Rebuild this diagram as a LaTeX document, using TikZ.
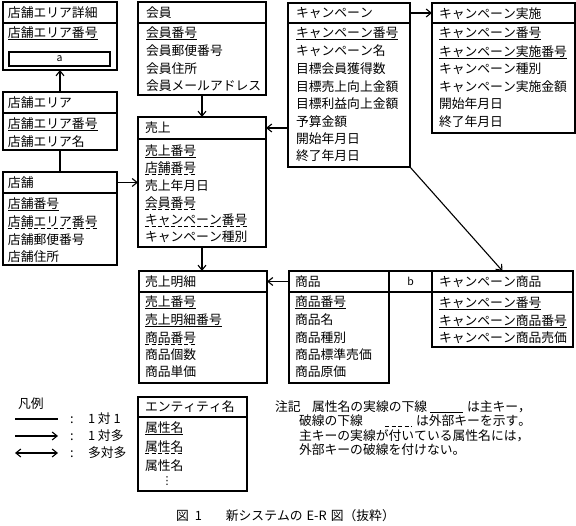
\documentclass[tikz,border=0pt]{standalone}
\usepackage{fontspec}
\setmainfont{Noto Sans CJK JP}[Kerning=Off]
\newfontfamily\dejavu{DejaVu Sans}
\usetikzlibrary{arrows.meta}
\begin{document}
\begin{tikzpicture}[x=1pt,y=-1pt,
  box/.style={draw, line width=1.1pt, inner sep=0pt, outer sep=0pt, anchor=north west},
  lbl/.style={font=\fontsize{12.8pt}{14pt}\selectfont, inner sep=0pt, outer sep=0pt, anchor=west, text height=11.2pt, text depth=1.6pt},
  conn/.style={line width=1.1pt},
  arr/.style={conn, -{Straight Barb[length=5pt,width=8pt]}},
  barr/.style={conn, {Straight Barb[length=5pt,width=8pt]}-{Straight Barb[length=5pt,width=8pt]}},
  pk/.style={line width=1pt},
  fk/.style={line width=1pt, dash pattern=on 4pt off 2.5pt},
]
\useasboundingbox (0,0) rectangle (576,526);
\fill[white] (0,0) rectangle (576,526);

% entity: name, x1, y1, x2, y2, ydiv
\newcommand\entity[6]{%
  \node[box, minimum width=#4-#2, minimum height=#5-#3] (#1) at (#2,#3) {};
  \node[box, minimum width=#4-#2, minimum height=#6-#3] (#1-h) at (#2,#3) {};
}
\newcommand\pkline[1]{\draw[pk] (#1.south west) -- (#1.south east);}
\newcommand\fkline[1]{\draw[fk] (#1.south west) -- (#1.south east);}

% ---------- 店舗エリア詳細 ----------
\entity{shosai}{3}{2}{117}{70}{23}
\node[lbl] (shosai-t) at (8,13) {店舗エリア詳細};
\node[lbl] (shosai-1) at (8,33) {店舗エリア番号}; \pkline{shosai-1}
\node[draw, line width=2.4pt, inner sep=0pt, outer sep=0pt, anchor=north west,
      minimum width=101, minimum height=14,
      font=\fontsize{10.5pt}{12pt}\selectfont] (shosai-a) at (9,52) {a};

% ---------- 店舗エリア ----------
\entity{area}{3}{92}{117}{150}{113}
\node[lbl] (area-t) at (8,103) {店舗エリア};
\node[lbl] (area-1) at (8,124) {店舗エリア番号}; \pkline{area-1}
\node[lbl] (area-2) at (8,142) {店舗エリア名};

% ---------- 店舗 ----------
\entity{tenpo}{3}{172}{117}{265}{193}
\node[lbl] (tenpo-t) at (8,183) {店舗};
\node[lbl] (tenpo-1) at (8,204) {店舗番号}; \pkline{tenpo-1}
\node[lbl] (tenpo-2) at (8,222) {店舗エリア番号}; \fkline{tenpo-2}
\node[lbl] (tenpo-3) at (8,240) {店舗郵便番号};
\node[lbl] (tenpo-4) at (8,257) {店舗住所};

% ---------- 会員 ----------
\entity{kaiin}{138}{2}{266}{95}{23}
\node[lbl] (kaiin-t) at (146,13) {会員};
\node[lbl] (kaiin-1) at (146,33) {会員番号}; \pkline{kaiin-1}
\node[lbl] (kaiin-2) at (146,51) {会員郵便番号};
\node[lbl] (kaiin-3) at (146,69) {会員住所};
\node[lbl] (kaiin-4) at (146,86) {会員メールアドレス};

% ---------- 売上 ----------
\entity{uriage}{138}{117}{266}{247}{139}
\node[lbl] (uriage-t) at (145,128) {売上};
\node[lbl] (uriage-1) at (145,151) {売上番号}; \pkline{uriage-1}
\node[lbl] (uriage-2) at (145,168) {店舗番号}; \fkline{uriage-2}
\node[lbl] (uriage-3) at (145,186) {売上年月日};
\node[lbl] (uriage-4) at (145,203) {会員番号}; \fkline{uriage-4}
\node[lbl] (uriage-5) at (145,220) {キャンペーン番号}; \fkline{uriage-5}
\node[lbl] (uriage-6) at (145,237) {キャンペーン種別};

% ---------- キャンペーン ----------
\entity{camp}{288}{3}{410}{167}{23}
\node[lbl] (camp-t) at (296,13) {キャンペーン};
\node[lbl] (camp-1) at (296,33) {キャンペーン番号}; \pkline{camp-1}
\node[lbl] (camp-2) at (296,51) {キャンペーン名};
\node[lbl] (camp-3) at (296,69) {目標会員獲得数};
\node[lbl] (camp-4) at (296,87) {目標売上向上金額};
\node[lbl] (camp-5) at (296,104) {目標利益向上金額};
\node[lbl] (camp-6) at (296,122) {予算金額};
\node[lbl] (camp-7) at (296,139) {開始年月日};
\node[lbl] (camp-8) at (296,156) {終了年月日};

% ---------- キャンペーン実施 ----------
\entity{jisshi}{432}{3}{575}{133}{23}
\node[lbl] (jisshi-t) at (439,14) {キャンペーン実施};
\node[lbl] (jisshi-1) at (439,33) {キャンペーン番号}; \pkline{jisshi-1}
\node[lbl] (jisshi-2) at (439,52) {キャンペーン実施番号}; \pkline{jisshi-2}
\node[lbl] (jisshi-3) at (439,69) {キャンペーン種別};
\node[lbl] (jisshi-4) at (439,87) {キャンペーン実施金額};
\node[lbl] (jisshi-5) at (439,104) {開始年月日};
\node[lbl] (jisshi-6) at (439,122) {終了年月日};

% ---------- 売上明細 ----------
\entity{meisai}{139}{271}{267}{383}{292}
\node[lbl] (meisai-t) at (145,282) {売上明細};
\node[lbl] (meisai-1) at (145,302) {売上番号}; \pkline{meisai-1}
\node[lbl] (meisai-2) at (145,320) {売上明細番号}; \pkline{meisai-2}
\node[lbl] (meisai-3) at (145,338) {商品番号}; \fkline{meisai-3}
\node[lbl] (meisai-4) at (145,355) {商品個数};
\node[lbl] (meisai-5) at (145,372) {商品単価};

% ---------- 商品 ----------
\entity{shohin}{289}{271}{389}{383}{292}
\node[lbl] (shohin-t) at (295,282) {商品};
\node[lbl] (shohin-1) at (295,302) {商品番号}; \pkline{shohin-1}
\node[lbl] (shohin-2) at (295,320) {商品名};
\node[lbl] (shohin-3) at (295,338) {商品種別};
\node[lbl] (shohin-4) at (295,355) {商品標準売価};
\node[lbl] (shohin-5) at (295,372) {商品原価};

% ---------- b ----------
\node[box, minimum width=43, minimum height=21,
      font=\fontsize{10.5pt}{12pt}\selectfont] (b) at (389,271) {b};

% ---------- キャンペーン商品 ----------
\entity{cprod}{432}{271}{573}{347}{292}
\node[lbl] (cprod-t) at (439,282) {キャンペーン商品};
\node[lbl] (cprod-1) at (439,303) {キャンペーン番号}; \pkline{cprod-1}
\node[lbl] (cprod-2) at (439,321) {キャンペーン商品番号}; \pkline{cprod-2}
\node[lbl] (cprod-3) at (439,338) {キャンペーン商品売価};

% ---------- connectors ----------
\draw[arr] (area.north) -- (shosai.south);
\draw[conn] (area.south) -- (tenpo.north);
\draw[arr] (tenpo-h.east) -- (tenpo-h.east -| uriage.west);
\draw[arr] (kaiin.south) -- (uriage.north);
\draw[arr] (uriage-h.east -| camp.west) -- (uriage-h.east);
\draw[arr] (camp-h.east) -- (jisshi-h.west);
\draw[arr] (camp.south east) -- (cprod.north);
\draw[arr] (uriage.south) -- (uriage.south |- meisai.north);
\draw[arr] (shohin-h.west) -- (meisai-h.east);

% ---------- legend ----------
\node[lbl] (hanrei) at (18,404) {凡例};
\coordinate (l1a) at (15,419); \coordinate (l1b) at (58,419);
\coordinate (l2a) at (15,436); \coordinate (l2b) at (58,436);
\coordinate (l3a) at (15,453); \coordinate (l3b) at (58,453);
\draw[conn] (l1a) -- (l1b);
\draw[arr] (l2a) -- (l2b);
\draw[barr] (l3a) -- (l3b);
\node[lbl] (c1) at (70,419) {:};
\node[lbl] (c2) at (70,436) {:};
\node[lbl] (c3) at (70,453) {:};
\node[lbl] (t1) at (88,419) {1 対 1};
\node[lbl] (t2) at (88,436) {1 対多};
\node[lbl] (t3) at (88,453) {多対多};

\entity{leg}{138}{397}{247}{491}{417}
\node[lbl] (leg-t) at (145,407) {エンティティ名};
\node[lbl] (leg-1) at (145,428) {属性名}; \pkline{leg-1}
\node[lbl] (leg-2) at (145,447) {属性名}; \fkline{leg-2}
\node[lbl] (leg-3) at (145,466) {属性名};
\node[inner sep=0pt, font=\dejavu\fontsize{11pt}{12pt}\selectfont] (leg-d) at (167,481) {⋮};

% ---------- notes ----------
\node[lbl] (n0) at (275,407) {注記};
\node[lbl] (n1) at (312,407) {属性名の実線の下線};
\coordinate (u1a) at (430,413); \coordinate (u1b) at (463,413);
\draw[pk] (u1a) -- (u1b);
\node[lbl] (n1b) at (467,407) {は主キー，};
\node[lbl] (n2) at (299,421) {破線の下線};
\coordinate (u2a) at (385,427); \coordinate (u2b) at (412,427);
\draw[fk] (u2a) -- (u2b);
\node[lbl] (n2b) at (416,421) {は外部キーを示す。};
\node[lbl] (n3) at (299,436) {主キーの実線が付いている属性名には，};
\node[lbl] (n4) at (299,450) {外部キーの破線を付けない。};

% ---------- caption ----------
\node[lbl] (cap) at (176,516) {図\hspace{6pt}1\hspace{24pt}新システムの\hspace{4pt}E-R\hspace{4pt}図（抜粋）};
\end{tikzpicture}
\end{document}
